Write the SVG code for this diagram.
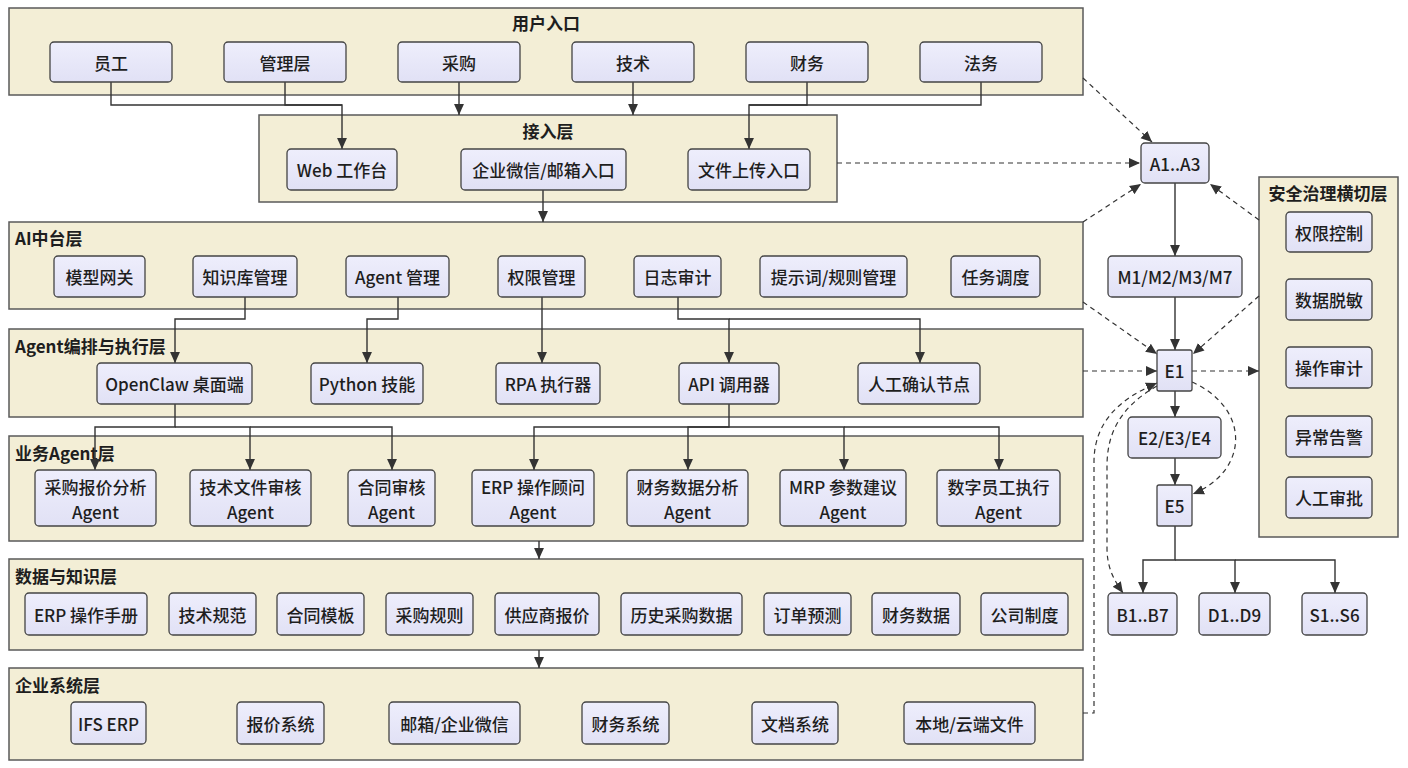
<svg xmlns="http://www.w3.org/2000/svg" width="1408" height="768" viewBox="0 0 1408 768">
<defs>
<linearGradient id="ng" x1="0" y1="0" x2="0" y2="1"><stop offset="0" stop-color="#eeeefc"/><stop offset="1" stop-color="#e1e1f5"/></linearGradient>
<marker id="ah" viewBox="0 0 10 10" refX="10" refY="5" markerWidth="11" markerHeight="11" markerUnits="userSpaceOnUse" orient="auto"><path d="M0,0.5 L10,5 L0,9.5 z" fill="#333"/></marker>
<style>
.cl{fill:#f3eed6;stroke:#5a5a5a;stroke-width:1.5}
.nd{fill:url(#ng);stroke:#444;stroke-width:1.3}
.t{font-family:"Noto Sans CJK SC","Noto Sans",sans-serif;font-size:17px;font-weight:500;fill:#1e1e1e;text-anchor:middle;dominant-baseline:central}
.ct{font-family:"Noto Sans CJK SC","Noto Sans",sans-serif;font-size:17px;font-weight:bold;fill:#1e1e1e;dominant-baseline:central}
.m{text-anchor:middle}
.e{fill:none;stroke:#333;stroke-width:1.4;marker-end:url(#ah)}
.l{fill:none;stroke:#333;stroke-width:1.4}
.d{fill:none;stroke:#333;stroke-width:1.2;stroke-dasharray:5 4;marker-end:url(#ah)}
</style>
</defs>
<rect width="1408" height="768" fill="#ffffff"/>

<g id="clusters">
<g id="c-user"><rect class="cl" x="9" y="8" width="1074" height="87"/><text class="ct m" x="546" y="22">用户入口</text></g>
<g id="c-access"><rect class="cl" x="259" y="115" width="578" height="87"/><text class="ct m" x="548" y="130">接入层</text></g>
<g id="c-ai"><rect class="cl" x="9" y="222" width="1074" height="87"/><text class="ct" x="15" y="237">AI中台层</text></g>
<g id="c-agent"><rect class="cl" x="9" y="329" width="1074" height="88"/><text class="ct" x="15" y="345">Agent编排与执行层</text></g>
<g id="c-biz"><rect class="cl" x="9" y="436" width="1074" height="105"/><text class="ct" x="15" y="452">业务Agent层</text></g>
<g id="c-data"><rect class="cl" x="9" y="559" width="1074" height="91"/><text class="ct" x="15" y="575">数据与知识层</text></g>
<g id="c-ent"><rect class="cl" x="9" y="668" width="1074" height="92"/><text class="ct" x="15" y="684">企业系统层</text></g>
<g id="c-sec"><rect class="cl" x="1259" y="177" width="139" height="360"/><text class="ct m" x="1328" y="192">安全治理横切层</text></g>
</g>

<g id="connectors">
<path class="l" d="M111,82 V105 H342"/>
<path class="e" d="M285,82 V105 H342 V149"/>
<path class="e" d="M459,82 V115"/>
<path class="e" d="M633,82 V115"/>
<path class="l" d="M981,82 V105 H749"/>
<path class="e" d="M807,82 V105 H749 V149"/>
<path class="e" d="M543,190 V222"/>
<path class="e" d="M245,297 V319 H175 V363"/>
<path class="e" d="M398,297 V319 H367 V363"/>
<path class="e" d="M542,297 V363"/>
<path class="e" d="M678,297 V319 H729 V363"/>
<path class="e" d="M729,319 H920 V363"/>
<path class="e" d="M175,404 V427 H95 V470"/>
<path class="e" d="M175,427 H250 V470"/>
<path class="e" d="M250,427 H392 V470"/>
<path class="e" d="M729,404 V427 H534 V470"/>
<path class="e" d="M729,427 H688 V470"/>
<path class="e" d="M729,427 H844 V470"/>
<path class="e" d="M844,427 H999 V470"/>
<path class="e" d="M539,541 V559"/>
<path class="e" d="M539,650 V668"/>
<path class="e" d="M1175,183 V256"/>
<path class="e" d="M1175,297 V350"/>
<path class="e" d="M1175,391 V417"/>
<path class="e" d="M1175,458 V485"/>
<path class="e" d="M1175,526 V560 H1143 V593"/>
<path class="e" d="M1175,560 H1235 V593"/>
<path class="e" d="M1235,560 H1335 V593"/>
<path class="d" d="M1083,78 L1152,142"/>
<path class="d" d="M837,163 H1140"/>
<path class="d" d="M1083,222 L1141,184"/>
<path class="d" d="M1259,220 L1210,184"/>
<path class="d" d="M1083,302 L1157,354"/>
<path class="d" d="M1259,296 L1193,354"/>
<path class="d" d="M1083,371 H1157"/>
<path class="d" d="M1192,371 H1259"/>
<path class="d" d="M1192,382 C1250,408 1250,470 1193,494"/>
<path class="d" d="M1157,386 C1118,408 1107,436 1107,466 V548 C1107,568 1114,580 1123,593"/>
<path class="d" d="M1083,713 H1094 V462 C1094,420 1122,398 1157,383"/>
</g>

<g id="n-yg"><rect class="nd" x="50" y="42" width="122" height="40" rx="4"/><text class="t" x="111" y="62">员工</text></g>
<g id="n-glc"><rect class="nd" x="224" y="42" width="122" height="40" rx="4"/><text class="t" x="285" y="62">管理层</text></g>
<g id="n-cg"><rect class="nd" x="398" y="42" width="122" height="40" rx="4"/><text class="t" x="459" y="62">采购</text></g>
<g id="n-js"><rect class="nd" x="572" y="42" width="122" height="40" rx="4"/><text class="t" x="633" y="62">技术</text></g>
<g id="n-cw"><rect class="nd" x="746" y="42" width="122" height="40" rx="4"/><text class="t" x="807" y="62">财务</text></g>
<g id="n-fw"><rect class="nd" x="920" y="42" width="122" height="40" rx="4"/><text class="t" x="981" y="62">法务</text></g>

<g id="n-web"><rect class="nd" x="287" y="149" width="110" height="41" rx="4"/><text class="t" x="342" y="169.5">Web 工作台</text></g>
<g id="n-wx"><rect class="nd" x="461" y="149" width="165" height="41" rx="4"/><text class="t" x="543.5" y="169.5">企业微信/邮箱入口</text></g>
<g id="n-up"><rect class="nd" x="688" y="149" width="122" height="41" rx="4"/><text class="t" x="749" y="169.5">文件上传入口</text></g>

<g id="n-mx"><rect class="nd" x="54" y="256" width="91" height="41" rx="4"/><text class="t" x="99.5" y="276.5">模型网关</text></g>
<g id="n-zsk"><rect class="nd" x="193" y="256" width="104" height="41" rx="4"/><text class="t" x="245" y="276.5">知识库管理</text></g>
<g id="n-agm"><rect class="nd" x="346" y="256" width="103" height="41" rx="4"/><text class="t" x="397.5" y="276.5">Agent 管理</text></g>
<g id="n-qx"><rect class="nd" x="498" y="256" width="87" height="41" rx="4"/><text class="t" x="541.5" y="276.5">权限管理</text></g>
<g id="n-rz"><rect class="nd" x="634" y="256" width="87" height="41" rx="4"/><text class="t" x="677.5" y="276.5">日志审计</text></g>
<g id="n-tsc"><rect class="nd" x="760" y="256" width="147" height="41" rx="4"/><text class="t" x="833.5" y="276.5">提示词/规则管理</text></g>
<g id="n-rw"><rect class="nd" x="951" y="256" width="89" height="41" rx="4"/><text class="t" x="995.5" y="276.5">任务调度</text></g>

<g id="n-oc"><rect class="nd" x="97" y="363" width="155" height="41" rx="4"/><text class="t" x="174.5" y="383.5">OpenClaw 桌面端</text></g>
<g id="n-py"><rect class="nd" x="311" y="363" width="112" height="41" rx="4"/><text class="t" x="367" y="383.5">Python 技能</text></g>
<g id="n-rpa"><rect class="nd" x="496" y="363" width="104" height="41" rx="4"/><text class="t" x="548" y="383.5">RPA 执行器</text></g>
<g id="n-api"><rect class="nd" x="679" y="363" width="100" height="41" rx="4"/><text class="t" x="729" y="383.5">API 调用器</text></g>
<g id="n-rg"><rect class="nd" x="858" y="363" width="122" height="41" rx="4"/><text class="t" x="919" y="383.5">人工确认节点</text></g>

<g id="n-b1"><rect class="nd" x="35" y="470" width="121" height="56" rx="4"/><text class="t" x="95.5" y="486">采购报价分析</text><text class="t" x="95.5" y="511">Agent</text></g>
<g id="n-b2"><rect class="nd" x="190" y="470" width="121" height="56" rx="4"/><text class="t" x="250.5" y="486">技术文件审核</text><text class="t" x="250.5" y="511">Agent</text></g>
<g id="n-b3"><rect class="nd" x="348" y="470" width="87" height="56" rx="4"/><text class="t" x="391.5" y="486">合同审核</text><text class="t" x="391.5" y="511">Agent</text></g>
<g id="n-b4"><rect class="nd" x="472" y="470" width="122" height="56" rx="4"/><text class="t" x="533" y="486">ERP 操作顾问</text><text class="t" x="533" y="511">Agent</text></g>
<g id="n-b5"><rect class="nd" x="627" y="470" width="121" height="56" rx="4"/><text class="t" x="687.5" y="486">财务数据分析</text><text class="t" x="687.5" y="511">Agent</text></g>
<g id="n-b6"><rect class="nd" x="780" y="470" width="126" height="56" rx="4"/><text class="t" x="843" y="486">MRP 参数建议</text><text class="t" x="843" y="511">Agent</text></g>
<g id="n-b7"><rect class="nd" x="937" y="470" width="123" height="56" rx="4"/><text class="t" x="998.5" y="486">数字员工执行</text><text class="t" x="998.5" y="511">Agent</text></g>

<g id="n-d1"><rect class="nd" x="25" y="593" width="122" height="42" rx="4"/><text class="t" x="86" y="614">ERP 操作手册</text></g>
<g id="n-d2"><rect class="nd" x="169" y="593" width="87" height="42" rx="4"/><text class="t" x="212.5" y="614">技术规范</text></g>
<g id="n-d3"><rect class="nd" x="277" y="593" width="87" height="42" rx="4"/><text class="t" x="320.5" y="614">合同模板</text></g>
<g id="n-d4"><rect class="nd" x="386" y="593" width="87" height="42" rx="4"/><text class="t" x="429.5" y="614">采购规则</text></g>
<g id="n-d5"><rect class="nd" x="495" y="593" width="104" height="42" rx="4"/><text class="t" x="547" y="614">供应商报价</text></g>
<g id="n-d6"><rect class="nd" x="621" y="593" width="121" height="42" rx="4"/><text class="t" x="681.5" y="614">历史采购数据</text></g>
<g id="n-d7"><rect class="nd" x="764" y="593" width="87" height="42" rx="4"/><text class="t" x="807.5" y="614">订单预测</text></g>
<g id="n-d8"><rect class="nd" x="872" y="593" width="88" height="42" rx="4"/><text class="t" x="916" y="614">财务数据</text></g>
<g id="n-d9"><rect class="nd" x="981" y="593" width="87" height="42" rx="4"/><text class="t" x="1024.5" y="614">公司制度</text></g>

<g id="n-s1"><rect class="nd" x="71" y="702" width="75" height="42" rx="4"/><text class="t" x="108.5" y="723">IFS ERP</text></g>
<g id="n-s2"><rect class="nd" x="237" y="702" width="87" height="42" rx="4"/><text class="t" x="280.5" y="723">报价系统</text></g>
<g id="n-s3"><rect class="nd" x="389" y="702" width="131" height="42" rx="4"/><text class="t" x="454.5" y="723">邮箱/企业微信</text></g>
<g id="n-s4"><rect class="nd" x="582" y="702" width="87" height="42" rx="4"/><text class="t" x="625.5" y="723">财务系统</text></g>
<g id="n-s5"><rect class="nd" x="752" y="702" width="86" height="42" rx="4"/><text class="t" x="795" y="723">文档系统</text></g>
<g id="n-s6"><rect class="nd" x="904" y="702" width="131" height="42" rx="4"/><text class="t" x="969.5" y="723">本地/云端文件</text></g>

<g id="n-sec1"><rect class="nd" x="1286" y="212" width="86" height="40" rx="4"/><text class="t" x="1329" y="232">权限控制</text></g>
<g id="n-sec2"><rect class="nd" x="1286" y="279" width="86" height="41" rx="4"/><text class="t" x="1329" y="299.5">数据脱敏</text></g>
<g id="n-sec3"><rect class="nd" x="1286" y="347" width="86" height="41" rx="4"/><text class="t" x="1329" y="367.5">操作审计</text></g>
<g id="n-sec4"><rect class="nd" x="1286" y="416" width="86" height="41" rx="4"/><text class="t" x="1329" y="436.5">异常告警</text></g>
<g id="n-sec5"><rect class="nd" x="1286" y="477" width="86" height="41" rx="4"/><text class="t" x="1329" y="497.5">人工审批</text></g>

<g id="n-a"><rect class="nd" x="1141" y="143" width="68" height="40" rx="4"/><text class="t" x="1175" y="163">A1..A3</text></g>
<g id="n-m"><rect class="nd" x="1108" y="256" width="134" height="41" rx="4"/><text class="t" x="1175" y="276.5">M1/M2/M3/M7</text></g>
<g id="n-e1"><rect class="nd" x="1157" y="350" width="35" height="41" rx="2"/><text class="t" x="1174.5" y="370.5">E1</text></g>
<g id="n-e2"><rect class="nd" x="1128" y="417" width="93" height="41" rx="4"/><text class="t" x="1174.5" y="437.5">E2/E3/E4</text></g>
<g id="n-e5"><rect class="nd" x="1157" y="485" width="35" height="41" rx="2"/><text class="t" x="1174.5" y="505.5">E5</text></g>
<g id="n-bb"><rect class="nd" x="1108" y="593" width="69" height="42" rx="4"/><text class="t" x="1142.5" y="614">B1..B7</text></g>
<g id="n-dd"><rect class="nd" x="1199" y="593" width="71" height="42" rx="4"/><text class="t" x="1234.5" y="614">D1..D9</text></g>
<g id="n-ss"><rect class="nd" x="1302" y="593" width="65" height="42" rx="4"/><text class="t" x="1334.5" y="614">S1..S6</text></g>
</svg>
